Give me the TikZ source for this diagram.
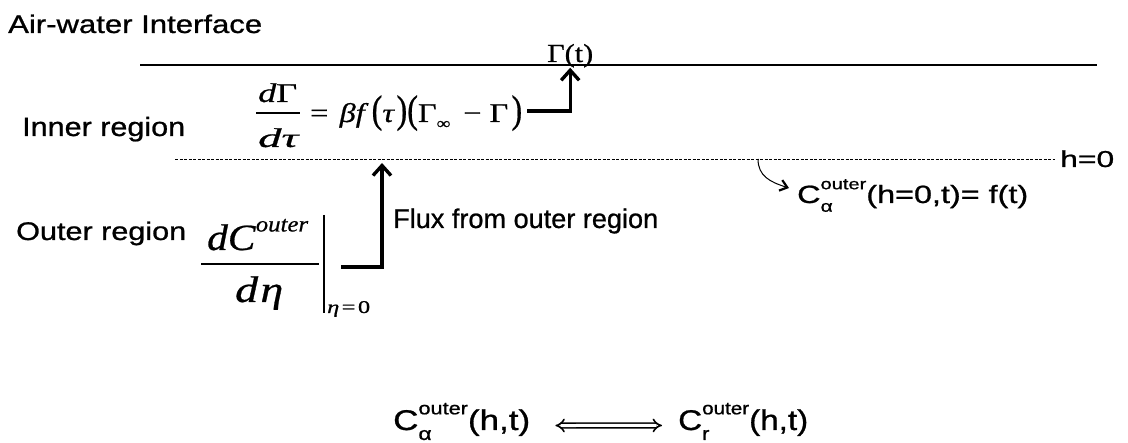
\documentclass[tikz,border=0pt]{standalone}
\usepackage{fontspec}
\usepackage{graphicx}
\setmainfont{Liberation Sans}[FakeBold=0.8]
\newfontfamily\tms{Liberation Serif}[FakeBold=0.6]
\usetikzlibrary{arrows.meta}
\newcommand{\fitw}[2]{\resizebox{#1}{\height}{#2}}
\newcommand{\fs}[1]{\fontsize{#1}{#1}\selectfont}
\newcommand{\Cso}[2]{C\rlap{\raisebox{-0.35em}{\scalebox{0.65}{#1}}}\raisebox{0.55em}{\scalebox{0.62}{#2}}}
\newcommand{\bigp}[1]{\raisebox{-0.02em}{\scalebox{1}[1.45]{#1}}}
\begin{document}
\begin{tikzpicture}[x=1pt,y=-1pt,
  txt/.style={inner sep=0pt, anchor=base west},
  thickarrow/.style={line width=3.4pt, -{Straight Barb[length=10pt,width=18pt]}},
  thinrule/.style={line width=1.2pt}]
\useasboundingbox (0,0) rectangle (1128,443);
\fill[white] (0,0) rectangle (1128,443);

% labels of regions
\node[txt, font={\fs{25.5}}] (air) at (8,33) {\fitw{254pt}{Air-water Interface}};
\node[txt, font={\fs{26.5}}] (inner) at (22,136) {\fitw{163pt}{Inner region}};
\node[txt, font={\fs{25.5}}] (outer) at (16,240) {\fitw{170pt}{Outer region}};

% interface line
\coordinate (topL) at (140,65);
\coordinate (topR) at (1097,65);
\draw[thinrule] (topL) -- (topR);
\node[txt, font={\tms\fs{26}}] (gam) at (547,62) {\fitw{46pt}{Γ(t)}};

% inner equation
\node[txt, font={\tms\fs{27}}] (num) at (258,102) {\fitw{39pt}{\itshape d\upshape Γ}};
\coordinate (barL) at (256,113);
\coordinate (barR) at (300,113);
\draw[thinrule] (barL) -- (barR);
\node[txt, font={\tms\fs{27}}] (den) at (258,147) {\fitw{40pt}{\itshape dτ}};
\node[txt, font={\tms\fs{27}}] (rhs) at (310,122) {\fitw{212pt}{=\hspace{0.35em}\textit{βf}\hspace{0.1em}\bigp{(}\textit{τ}\hspace{0.05em}\bigp{)}\bigp{(}Γ\raisebox{-0.25em}{\scalebox{0.6}{∞}}\hspace{0.15em} − Γ\hspace{0.1em}\bigp{)}}};
\coordinate (eqA) at (527,111);
\draw[thickarrow] (eqA) -| (gam.south);

% boundary h=0
\coordinate (dL) at (175,159);
\coordinate (dR) at (1055,159);
\draw[line width=0.9pt, dash pattern=on 3pt off 1.5pt] (dL) -- (dR);
\node[txt, font={\fs{23}}] (h0) at (1060,167) {\fitw{54pt}{h=0}};

% boundary condition
\node[txt, font={\fs{25}}] (cf) at (797,203) {\fitw{231pt}{\Cso{α}{outer}(h=0,t)= f(t)}};
\coordinate (cs) at (758,159);
\coordinate (ce) at (789,188);
\draw[line width=1pt, -{Straight Barb[length=7pt,width=11pt,line width=2.2pt]}] (cs) .. controls (758,176) and (770,182) .. (ce);

% outer flux
\node[txt, font={\tms\fs{37}}] (onum) at (207,250) {\fitw{101pt}{\textit{dC}\raisebox{0.5em}{\scalebox{0.6}{\textit{outer}}}}};
\coordinate (obL) at (201,264);
\coordinate (obR) at (319,264);
\draw[thinrule] (obL) -- (obR);
\node[txt, font={\tms\fs{37}}] (oden) at (235,302) {\fitw{48pt}{\textit{d}\hspace{0.05em}\textit{η}}};
\coordinate (vbT) at (324,215);
\coordinate (vbB) at (324,313);
\draw[thinrule] (vbT) -- (vbB);
\node[txt, font={\tms\fs{18}}] (eta) at (327,313) {\fitw{43pt}{\textit{η}\hspace{0.1em}=\hspace{0.1em}0}};
\coordinate (fa) at (341,267);
\coordinate (ftip) at (382,163);
\draw[thickarrow] (fa) -| (ftip);
\node[txt, font={\fs{27}}] (flux) at (393,228) {\fitw{265pt}{Flux from outer region}};

% equilibrium
\node[txt, font={\fs{28.5}}] (ca) at (393,430) {\fitw{137pt}{\Cso{α}{outer}(h,t)}};
\node[txt, font={\fs{28.5}}] (cr) at (678,430) {\fitw{130pt}{\Cso{r}{outer}(h,t)}};
\draw[double, double distance=3pt, line width=1.6pt, {Implies}-{Implies}, shorten <=25pt, shorten >=16pt] ([yshift=-4pt]ca.east) -- ([yshift=-4pt]cr.west);
\end{tikzpicture}
\end{document}
